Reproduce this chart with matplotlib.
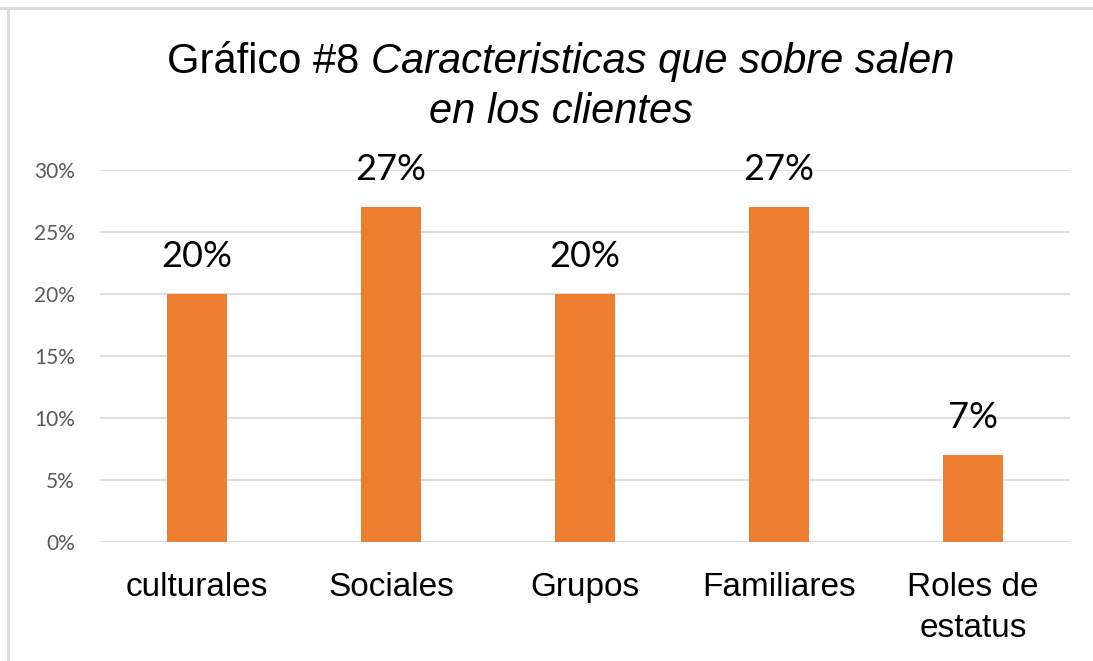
import matplotlib
matplotlib.use("Agg")
import matplotlib.pyplot as plt
from matplotlib.ticker import PercentFormatter, MultipleLocator
from matplotlib.lines import Line2D

categories = ["culturales", "Sociales", "Grupos", "Familiares", "Roles de\nestatus"]
values = [20, 27, 20, 27, 7]
labels = ["20%", "27%", "20%", "27%", "7%"]

W, H = 1093, 661
fig = plt.figure(figsize=(W / 100, H / 100), dpi=100)
ax = fig.add_axes([100 / W, 1 - 541.5 / H, 970 / W, 371.5 / H])

bar_color = "#ED7D31"
x = list(range(len(categories)))
bars = ax.bar(x, values, width=0.31, color=bar_color, zorder=3)
ax.set_xlim(-0.5, len(categories) - 0.5)
ax.set_ylim(0, 30)
ax.yaxis.set_major_locator(MultipleLocator(5))
ax.yaxis.set_major_formatter(PercentFormatter(decimals=0))
ax.grid(axis="y", color="#D9D9D9", linewidth=1.2, zorder=0)
for s in ax.spines.values():
    s.set_visible(False)
ax.tick_params(axis="both", length=0)
ax.tick_params(axis="y", labelsize=15, labelcolor="#595959", pad=18)
for t in ax.get_yticklabels():
    t.set_fontfamily("Lato")
ax.set_xticks(x)
ax.set_xticklabels(categories, fontsize=24, fontfamily="Liberation Sans", linespacing=1.4)
ax.tick_params(axis="x", pad=22)

for xi, v, lab in zip(x, values, labels):
    ax.annotate(lab, (xi, v), xytext=(0, 15), textcoords="offset points",
                ha="center", va="bottom", fontsize=26, fontfamily="Lato", color="black")

# Title: normal + italic on first line, italic second line
fig.canvas.draw()
r = fig.canvas.get_renderer()
fs = 30
t1 = fig.text(0, 1 - 62 / H, "Gráfico #8 ", fontsize=fs, fontfamily="Liberation Sans", va="center", ha="left")
t2 = fig.text(0, 1 - 62 / H, "Caracteristicas que sobre salen", fontsize=fs, fontfamily="Liberation Sans",
              style="italic", va="center", ha="left")
w1 = t1.get_window_extent(r).width
w2 = t2.get_window_extent(r).width
start = 561 - (w1 + w2) / 2
t1.set_x(start / W)
t2.set_x((start + w1) / W)
fig.text(561 / W, 1 - 112 / H, "en los clientes", fontsize=fs, fontfamily="Liberation Sans",
         style="italic", va="center", ha="center")

# Chart border (top and left)
fig.add_artist(Line2D([0, 1], [1 - 8 / H, 1 - 8 / H], transform=fig.transFigure, color="#D9D9D9", linewidth=2))
fig.add_artist(Line2D([8 / W, 8 / W], [0, 1 - 8 / H], transform=fig.transFigure, color="#D9D9D9", linewidth=2))

fig.savefig("out.png", dpi=100)
